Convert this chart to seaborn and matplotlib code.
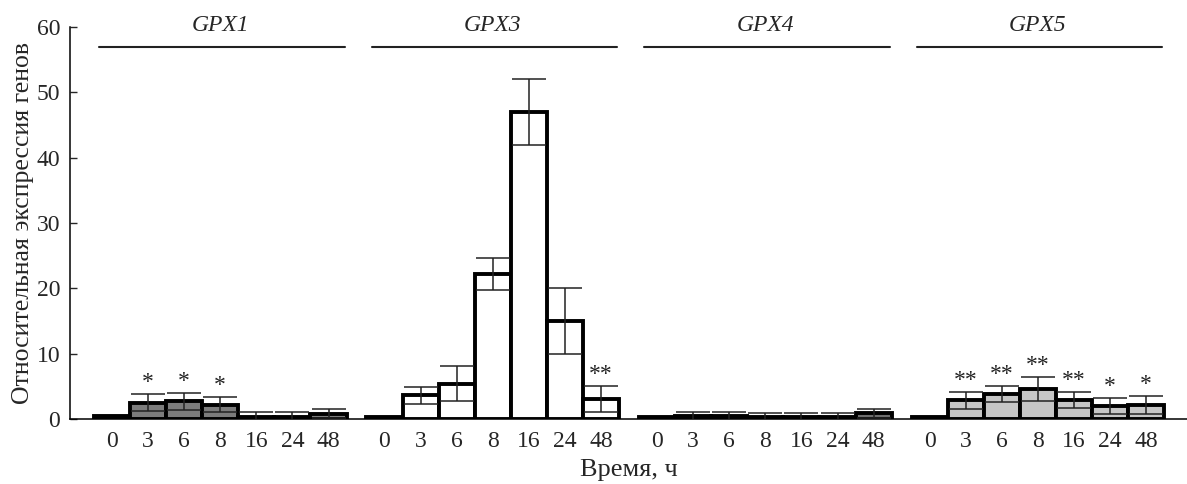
import numpy as np
import pandas as pd
import seaborn as sns
import matplotlib.pyplot as plt

genes = ['GPX1', 'GPX3', 'GPX4', 'GPX5']
times = ['0', '3', '6', '8', '16', '24', '48']

gpx1 = [0.4, 2.5, 2.7, 2.2, 0.3, 0.3, 0.8]
gpx1_err = [0.0, 1.3, 1.3, 1.2, 0.7, 0.7, 0.7]
gpx3 = [0.3, 3.6, 5.4, 22.2, 47.0, 15.0, 3.1]
gpx3_err = [0.0, 1.3, 2.7, 2.4, 5.0, 5.0, 2.0]
gpx4 = [0.3, 0.4, 0.4, 0.3, 0.3, 0.3, 0.9]
gpx4_err = [0.0, 0.7, 0.7, 0.6, 0.6, 0.6, 0.7]
gpx5 = [0.3, 2.9, 3.8, 4.6, 2.9, 2.0, 2.1]
gpx5_err = [0.0, 1.3, 1.2, 1.9, 1.2, 1.2, 1.4]

gpx1_stars = ['', '*', '*', '*', '', '', '']
gpx3_stars = ['', '', '', '', '', '', '**']
gpx4_stars = ['', '', '', '', '', '', '']
gpx5_stars = ['', '**', '**', '**', '**', '*', '*']

colors = {'GPX1': '#7c7c7c', 'GPX3': '#ffffff', 'GPX4': '#6e6e6e', 'GPX5': '#c6c6c6'}

gap = 0.55
rows = []
for g, (gene, vals, errs, stars) in enumerate(zip(
        genes, [gpx1, gpx3, gpx4, gpx5], [gpx1_err, gpx3_err, gpx4_err, gpx5_err],
        [gpx1_stars, gpx3_stars, gpx4_stars, gpx5_stars])):
    for i, t in enumerate(times):
        rows.append({'gene': gene, 'time': t, 'pos': g * (7 + gap) + i,
                     'value': vals[i], 'err': errs[i], 'star': stars[i]})
df = pd.DataFrame(rows)

sns.set_style('white')
plt.rcParams['font.family'] = ['Liberation Serif', 'DejaVu Serif']

fig = plt.figure(figsize=(11.87, 4.84), dpi=100)
ax = fig.add_axes([0.059, 0.1343, 0.941, 0.8099])

sns.barplot(data=df, x='pos', y='value', hue='gene', palette=colors, native_scale=True,
            dodge=False, width=1.0, saturation=1, edgecolor='black', linewidth=2.8,
            errorbar=None, legend=False, ax=ax)

# error bars (skip the reference bar at 0 h)
e = df[df['err'] > 0]
ax.errorbar(e['pos'], e['value'], yerr=e['err'], fmt='none', ecolor='#222222',
            elinewidth=1.1, capsize=12, capthick=1.1, zorder=5)

# significance marks
for _, r in df[df['star'] != ''].iterrows():
    ax.text(r['pos'], r['value'] + r['err'] + 0.9, r['star'], ha='center', va='baseline',
            fontsize=17, color='#222222')

# gene headers
for g, gene in enumerate(genes):
    x0 = g * (7 + gap) - 0.5
    ax.plot([x0 + 0.15, x0 + 6.95], [57, 57], color='#222222', lw=1.5, clip_on=False)
    ax.text(x0 + 3.5, 60.3, gene, ha='center', va='center', fontsize=17, style='italic',
            clip_on=False)

ax.set_ylim(0, 60)
ax.set_xlim(-1.16, 29.78)
ax.set_xticks(df['pos'])
ax.set_xticklabels(df['time'])
ax.set_yticks(range(0, 61, 10))
ax.tick_params(axis='x', length=0, pad=9, labelsize=17)
ax.tick_params(axis='y', direction='in', length=5, width=1, pad=7, labelsize=17, left=True)

for side in ['top', 'right']:
    ax.spines[side].set_visible(False)
for side in ['left', 'bottom']:
    ax.spines[side].set_color('black')
    ax.spines[side].set_linewidth(1.1)

ax.set_xlabel('Время, ч', fontsize=19, labelpad=5)
ax.set_ylabel('Относительная экспрессия генов', fontsize=18.5, labelpad=2)

fig.savefig('out.png', dpi=100)
